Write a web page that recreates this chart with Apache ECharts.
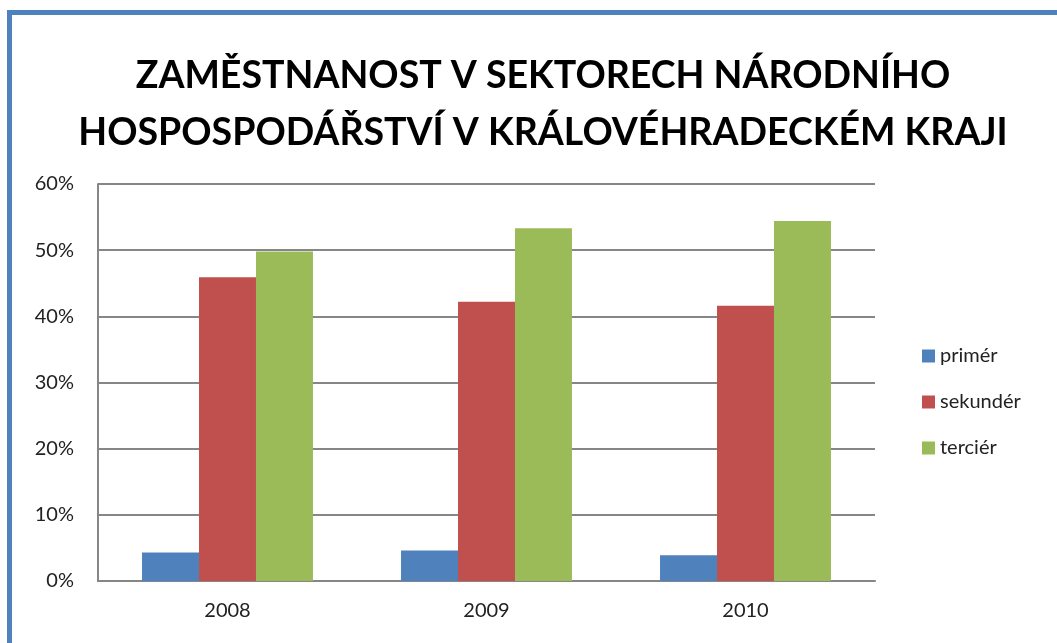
<!DOCTYPE html>
<html>
<head>
<meta charset="utf-8">
<script src="https://cdn.jsdelivr.net/npm/echarts@6/dist/echarts.min.js"></script>
<style>
  html, body { margin: 0; padding: 0; background: #fff; }
  #frame {
    position: absolute; left: 7px; top: 10px; width: 1050px; height: 633px;
    border-left: 5px solid #4F81BD; border-top: 5px solid #4F81BD;
  }
  #chart { position: absolute; left: 0; top: 0; width: 1057px; height: 643px; }
</style>
</head>
<body>
<div id="frame"></div>
<div id="chart"></div>
<script>
var years = ['2008', '2009', '2010'];
var primer = [4.3, 4.6, 3.9];
var sekunder = [45.9, 42.2, 41.6];
var tercier = [49.8, 53.3, 54.4];

var font = 'Lato, "Open Sans", sans-serif';
var myChart = echarts.init(document.getElementById('chart'));
var option = {
    animation: false,
    textStyle: { fontFamily: font },
    title: {
        text: 'ZAMĚSTNANOST V SEKTORECH NÁRODNÍHO\nHOSPOSPODÁŘSTVÍ V KRÁLOVÉHRADECKÉM KRAJI',
        left: 538,
        textAlign: 'center',
        top: 42,
        textStyle: {
            fontFamily: font,
            fontSize: 37.5,
            fontWeight: 'bold',
            color: '#000',
            lineHeight: 57
        }
    },
    legend: {
        orient: 'vertical',
        left: 917,
        top: 341,
        itemWidth: 13,
        itemHeight: 13,
        itemGap: 26,
        icon: 'rect',
        textStyle: { fontSize: 20, color: '#222', fontFamily: font },
        data: ['primér', 'sekundér', 'terciér']
    },
    grid: { left: 98, right: 182, top: 184, bottom: 62 },
    xAxis: {
        type: 'category',
        data: years,
        axisLine: { lineStyle: { color: '#868686', width: 2 } },
        axisTick: { show: false },
        axisLabel: { fontSize: 20, color: '#222', margin: 20 }
    },
    yAxis: {
        type: 'value',
        min: 0,
        max: 60,
        interval: 10,
        axisLine: { show: true, lineStyle: { color: '#868686', width: 2 } },
        axisTick: { show: false },
        splitLine: { lineStyle: { color: '#868686', width: 2 } },
        axisLabel: { formatter: '{value}%', fontSize: 20, color: '#222', margin: 24 }
    },
    series: [{
        name: 'primér',
        type: 'bar',
        data: primer,
        barGap: '0%',
        barCategoryGap: '34%',
        itemStyle: { color: '#4F81BD' }
    }, {
        name: 'sekundér',
        type: 'bar',
        data: sekunder,
        itemStyle: { color: '#C0504D' }
    }, {
        name: 'terciér',
        type: 'bar',
        data: tercier,
        itemStyle: { color: '#9BBB59' }
    }]
};
myChart.setOption(option);
</script>
</body>
</html>
